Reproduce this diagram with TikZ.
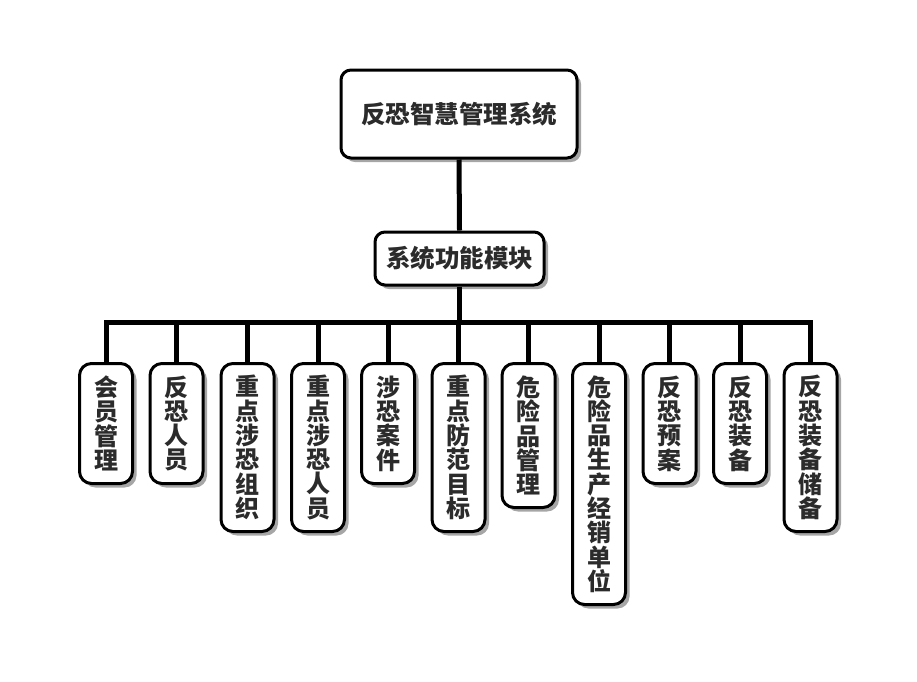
\documentclass[tikz,border=0pt]{standalone}
\usepackage{fontspec}
\setmainfont{Noto Sans CJK SC}
\usetikzlibrary{shadows}
\definecolor{txt}{HTML}{2B2B2B}
\begin{document}
\begin{tikzpicture}[x=1pt,y=-1pt,
  box/.style={draw=black, line width=3pt, fill=white, text=txt, inner sep=0pt,
    drop shadow={shadow xshift=4pt, shadow yshift=-4pt, opacity=0.35, fill=black}},
  topbox/.style={box, rounded corners=10pt, minimum width=236pt, minimum height=88pt,
    font=\fontsize{24.5}{26}\selectfont\bfseries},
  midbox/.style={box, rounded corners=10pt, minimum width=169pt, minimum height=53pt,
    font=\fontsize{24.5}{26}\selectfont\bfseries},
  leaf/.style={box, rounded corners=12pt, minimum width=53pt, minimum height=#1,
    anchor=north, align=center, font=\fontsize{24}{24.3}\selectfont\bfseries},
  conn/.style={draw=black, line width=5pt, line join=miter}
]
\useasboundingbox (0,0) rectangle (917,681);

\node[topbox] (top) at (459,114) {反恐智慧管理系统};
\node[midbox] (mid) at (459.5,258.5) {系统功能模块};
\coordinate (busy) at (0,322);

\node[leaf=120pt] (l1) at (106,362) {会\\员\\管\\理};
\node[leaf=120pt] (l2) at (176.5,362) {反\\恐\\人\\员};
\node[leaf=168pt] (l3) at (247.5,362) {重\\点\\涉\\恐\\组\\织};
\node[leaf=168pt] (l4) at (318,362) {重\\点\\涉\\恐\\人\\员};
\node[leaf=120pt] (l5) at (388,362) {涉\\恐\\案\\件};
\node[leaf=168pt] (l6) at (458.5,362) {重\\点\\防\\范\\目\\标};
\node[leaf=144pt] (l7) at (528.5,362) {危\\险\\品\\管\\理};
\node[leaf=241pt] (l8) at (599,362) {危\\险\\品\\生\\产\\经\\销\\单\\位};
\node[leaf=120pt] (l9) at (669.5,362) {反\\恐\\预\\案};
\node[leaf=120pt] (l10) at (740,362) {反\\恐\\装\\备};
\node[leaf=168pt] (l11) at (810.5,362) {反\\恐\\装\\备\\储\\备};

\draw[conn] (top.south) -- (mid.north);
\draw[conn] (mid.south) -- (mid.south |- busy);
\draw[conn] (l1.north) -- (l1.north |- busy) -- (l11.north |- busy) -- (l11.north);
\foreach \n in {l2,l3,l4,l5,l6,l7,l8,l9,l10}
  \draw[conn] (\n.north) -- (\n.north |- busy);
\end{tikzpicture}
\end{document}
